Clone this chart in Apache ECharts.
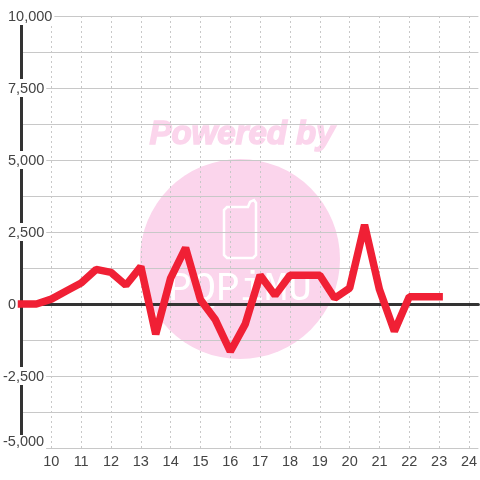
<!DOCTYPE html>
<html>
<head>
<meta charset="utf-8">
<style>html,body{margin:0;padding:0;background:#fff}#c{width:480px;height:480px}</style>
<script src="https://cdn.jsdelivr.net/npm/echarts@6/dist/echarts.min.js"></script>
</head>
<body>
<div id="c"></div>
<script>
var xValues = [9,9.5,10,10.5,11,11.5,12,12.5,13,13.5,14,14.5,15,15.5,16,16.5,17,17.5,18,18.5,19,19.5,20,20.5,21,21.5,22,22.5,23];
var yValues = [0,0,170,450,730,1200,1100,650,1300,-1050,900,1950,150,-550,-1650,-700,1000,300,1000,1000,1000,200,550,2750,500,-950,250,250,250];
var xTicks = [10,11,12,13,14,15,16,17,18,19,20,21,22,23,24];
var yTicks = [-5000,-2500,0,2500,5000,7500,10000];
var points = xValues.map(function(x,i){return [x,yValues[i]];});
var chart = echarts.init(document.getElementById('c'),null,{renderer:'canvas'});
var textColor = '#444';
var font = 'Liberation Sans';
var fs = 14.5;
chart.setOption({
  animation:false,
  backgroundColor:'#fff',
  grid:{left:20.5,top:16,right:0,height:432,containLabel:false},
  graphic:[
    {type:'circle',z:-1,shape:{cx:240,cy:259,r:100},style:{fill:'#fbd5ec'},silent:true},
    {type:'text',z:-1,style:{x:242,y:135,text:'Powered by',align:'center',verticalAlign:'middle',font:'italic bold 33px "Liberation Sans"',fill:'#fbd5ec',stroke:'#fbd5ec',lineWidth:1.5},silent:true},
    {type:'polygon',z:-1,shape:{points:[[227,207],[248,207],[250,202],[254,200],[256,203],[256,255],[253,258],[227,258],[224,255],[224,210]]},style:{fill:'none',stroke:'#fff',lineWidth:2.5},silent:true},
    {type:'text',z:-1,style:{x:240,y:289,text:'PQPiMU',align:'center',verticalAlign:'middle',font:'40px "Liberation Mono"',fill:'#fff'},silent:true}
  ],
  xAxis:{
    type:'value',min:9,max:24.3167,interval:1,
    axisLine:{onZero:true,lineStyle:{color:'#333',width:3}},
    axisTick:{show:false},
    axisLabel:{show:true,color:textColor,fontFamily:font,fontSize:fs,margin:6,
      customValues:xTicks,
      formatter:function(v){return String(v);}},
    splitLine:{show:true,showMaxLine:false,showMinLine:false,lineStyle:{color:'#c8c8c8',width:1,type:[2,3]}}
  },
  yAxis:{
    type:'value',min:-5000,max:10000,interval:1250,
    axisLine:{show:true,onZero:false,lineStyle:{color:'#333',width:3}},
    axisTick:{show:false},
    axisLabel:{show:true,color:textColor,fontFamily:font,fontSize:fs,margin:18.5,align:'left',
      customValues:yTicks,
      formatter:function(v){
        var s = Number(v).toLocaleString('en-US');
        if(v===-5000) return '{b|'+s+'}';
        return v<0 ? '{n|'+s+'}' : '{p|'+s+'}';
      },
      rich:{
        b:{color:textColor,fontFamily:font,fontSize:fs,backgroundColor:'#fff',padding:[0,2,12,0],height:14,lineHeight:14},
        n:{color:textColor,fontFamily:font,fontSize:fs,backgroundColor:'#fff',padding:[2,2,0,0],height:16,lineHeight:16},
        p:{color:textColor,fontFamily:font,fontSize:fs,backgroundColor:'#fff',padding:[2,2,0,5],height:16,lineHeight:16}
      }},
    splitLine:{show:true,lineStyle:{color:'#c8c8c8',width:1}}
  },
  series:[{
    type:'line',data:points,showSymbol:false,symbol:'none',clip:false,
    lineStyle:{color:'#f02035',width:7.5,cap:'square',join:'bevel'},
    z:5
  }]
});
</script>
</body>
</html>
